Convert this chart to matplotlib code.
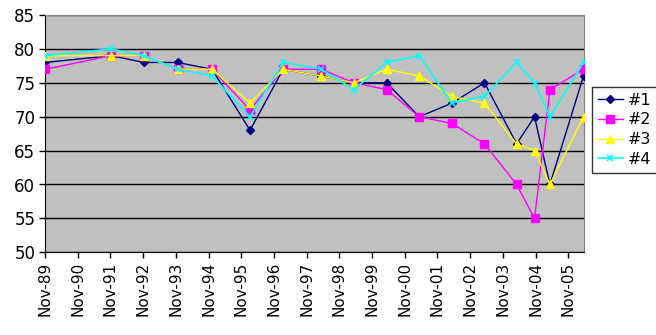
import datetime as dt
import matplotlib
matplotlib.use('Agg')
import matplotlib.pyplot as plt

# sample dates
dates = ['1989-11-05', '1991-11-10', '1992-11-10', '1993-11-20', '1994-12-10',
         '1996-02-08', '1997-02-12', '1998-04-12', '1999-04-12', '2000-04-12',
         '2001-04-12', '2002-04-12', '2003-04-10', '2004-04-03', '2004-10-20',
         '2005-04-10', '2006-04-20']

s1 = [78, 79, 78, 78, 77, 68, 77, 76, 75, 75, 70, 72, 75, 66, 70, 60, 76]
s2 = [77, 79, 79, 77, 77, 71, 77, 77, 75, 74, 70, 69, 66, 60, 55, 74, 77]
s3 = [79, 79, 79, 77, 77, 72, 77, 76, 75, 77, 76, 73, 72, 66, 65, 60, 70]
s4 = [79, 80, 79, 77, 76, 70, 78, 77, 74, 78, 79, 72, 73, 78, 75, 70, 78]

labels = ['#1', '#2', '#3', '#4']
tick_years = list(range(1989, 2006))

x = [dt.datetime.strptime(d, '%Y-%m-%d') for d in dates]
ticks = [dt.datetime(y, 11, 1) for y in tick_years]

fig = plt.figure(figsize=(6.56, 3.35), dpi=100)
ax = fig.add_axes([45 / 656, 1 - 252.3 / 335, 538.5 / 656, 237.3 / 335])
ax.set_facecolor('#C0C0C0')

ax.plot(x, s1, color='#000080', marker='D', markersize=4, lw=1, label=labels[0], zorder=3)
ax.plot(x, s2, color='#FF00FF', marker='s', markersize=5.5, lw=1, label=labels[1], zorder=4)
ax.plot(x, s3, color='#FFFF00', marker='^', markersize=5.5, lw=1, label=labels[2], zorder=5)
ax.plot(x, s4, color='#00FFFF', marker='x', markersize=5, mew=1.2, lw=1.2, label=labels[3], zorder=6)

ax.set_ylim(50, 85)
ax.set_yticks(range(50, 86, 5))
ax.set_xlim(dt.datetime(1989, 11, 1), x[-1])
ax.set_xticks(ticks)
ax.set_xticklabels([t.strftime('%b-%y') for t in ticks], rotation=90, fontsize=11)
ax.yaxis.grid(True, color='black', lw=1)
ax.set_axisbelow(True)

ax.tick_params(axis='x', direction='out', length=4, width=1, pad=3)
ax.tick_params(axis='y', labelsize=12, direction='out', length=4, width=1, pad=3)

ax.spines['left'].set_color('black')
ax.spines['bottom'].set_color('black')
ax.spines['top'].set_color('#808080')
ax.spines['right'].set_color('#808080')

leg = fig.legend(loc='upper left', bbox_to_anchor=(592 / 656, 1 - 87 / 335),
                 fontsize=11.5, frameon=True, fancybox=False, handlelength=1.6,
                 handletextpad=0.3, borderpad=0.35, labelspacing=0.3, borderaxespad=0)
leg.get_frame().set_edgecolor('black')
leg.get_frame().set_linewidth(1)

fig.savefig('out.png', dpi=100, facecolor='white')
